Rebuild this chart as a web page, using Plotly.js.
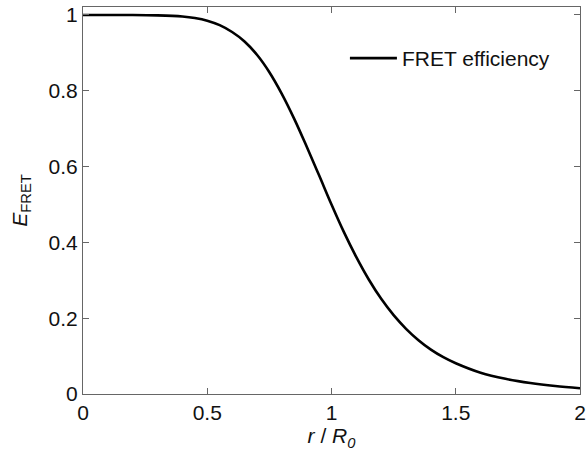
<!DOCTYPE html>
<html>
<head>
<meta charset="utf-8">
<script src="https://cdn.plot.ly/plotly-3.0.1.min.js"></script>
<style>html,body{margin:0;padding:0;background:#fff;}#chart{width:586px;height:456px;}</style>
</head>
<body>
<div id="chart"></div>
<script>
var rOverR0 = [0, 0.1, 0.2, 0.3, 0.4, 0.45, 0.5, 0.55, 0.6, 0.65, 0.7, 0.75, 0.8, 0.85, 0.9, 0.95, 1.0, 1.05, 1.1, 1.15, 1.2, 1.25, 1.3, 1.35, 1.4, 1.45, 1.5, 1.6, 1.7, 1.8, 1.9, 2.0];
var efficiency = [1.0, 1.0, 1.0, 0.999, 0.996, 0.992, 0.985, 0.973, 0.955, 0.930, 0.895, 0.849, 0.792, 0.726, 0.653, 0.577, 0.500, 0.427, 0.361, 0.302, 0.251, 0.208, 0.172, 0.142, 0.117, 0.097, 0.081, 0.056, 0.040, 0.029, 0.021, 0.015];
var seriesName = 'FRET efficiency';
var xTicks = [0, 0.5, 1, 1.5, 2];
var yTicks = [0, 0.2, 0.4, 0.6, 0.8, 1];

var fam = '"Liberation Sans", Arial, sans-serif';
var ink = '#111';
Plotly.newPlot('chart', [{
  x: rOverR0, y: efficiency, name: seriesName, type: 'scatter', mode: 'lines',
  line: {color: '#000', width: 2.6, shape: 'spline', smoothing: 1}
}], {
  width: 586, height: 456,
  margin: {l: 83, r: 6, t: 7, b: 62},
  paper_bgcolor: '#fff', plot_bgcolor: '#fff',
  font: {family: fam, size: 21, color: ink},
  showlegend: true,
  legend: {x: 0.527, y: 0.92, xanchor: 'left', yanchor: 'top', itemwidth: 47, bgcolor: 'rgba(0,0,0,0)', font: {family: fam, size: 21, color: ink}},
  xaxis: {
    range: [0, 2], tickvals: xTicks, ticktext: xTicks.map(String),
    ticks: 'inside', ticklen: 6, tickcolor: '#666', mirror: 'ticks',
    showline: true, linecolor: '#666', linewidth: 1, showgrid: false, zeroline: false,
    tickfont: {family: fam, size: 21, color: ink},
    title: {text: '<i>r</i> / <i>R<sub>0</sub></i>', font: {family: fam, size: 21, color: ink}, standoff: 2}
  },
  yaxis: {
    range: [0, 1.021], tickvals: yTicks, ticktext: yTicks.map(String),
    ticks: 'inside', ticklen: 6, tickcolor: '#666', mirror: 'ticks',
    showline: true, linecolor: '#666', linewidth: 1, showgrid: false, zeroline: false,
    tickfont: {family: fam, size: 21, color: ink},
    title: {text: '<i>E</i><sub>FRET</sub>', font: {family: fam, size: 21, color: ink}, standoff: 15}
  }
}, {displayModeBar: false, staticPlot: true});
</script>
</body>
</html>
